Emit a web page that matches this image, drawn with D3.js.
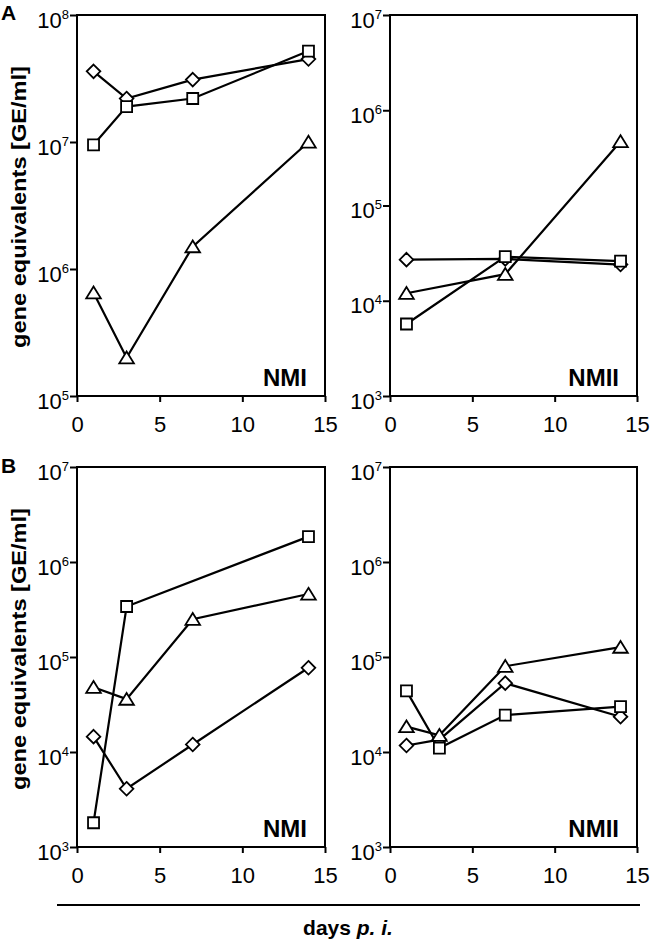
<!DOCTYPE html>
<html>
<head>
<meta charset="utf-8">
<script src="https://cdn.jsdelivr.net/npm/d3@7"></script>
<style>
  html, body { margin: 0; padding: 0; background: #fff; }
  svg { display: block; }
  text { font-family: "Liberation Sans", Arial, sans-serif; fill: #000; }
</style>
</head>
<body>
<svg id="chart" width="650" height="940"></svg>
<script>
// ---------- data ----------
const daysFour = [1, 3, 7, 14];
const daysNMIIa = [1, 7, 14];
const daysSquareBNMI = [1, 3, 14];

// Panel A, NMI
const aNMI_diamond = [3.6e7, 2.2e7, 3.1e7, 4.5e7];
const aNMI_square = [9.5e6, 1.9e7, 2.2e7, 5.2e7];
const aNMI_triangle = [6.5e5, 2.0e5, 1.5e6, 1.0e7];

// Panel A, NMII
const aNMII_diamond = [2.7e4, 2.75e4, 2.4e4];
const aNMII_square = [5.7e3, 2.9e4, 2.6e4];
const aNMII_triangle = [1.2e4, 1.9e4, 4.7e5];

// Panel B, NMI
const bNMI_diamond = [1.45e4, 4.1e3, 1.2e4, 7.7e4];
const bNMI_square = [1.8e3, 3.4e5, 1.85e6];
const bNMI_triangle = [4.8e4, 3.6e4, 2.5e5, 4.6e5];

// Panel B, NMII
const bNMII_diamond = [1.17e4, 1.35e4, 5.3e4, 2.35e4];
const bNMII_square = [4.4e4, 1.1e4, 2.45e4, 3.0e4];
const bNMII_triangle = [1.85e4, 1.5e4, 8.0e4, 1.27e5];

const xTicks = [0, 5, 10, 15];
const yLabel = "gene equivalents [GE/ml]";
const xLabel = ["days ", "p. i."];

// ---------- layout ----------
const svg = d3.select("#chart");
const FONT = '"Liberation Sans", Arial, sans-serif';

const panels = [
  { name: "NMI",  x0: 77,  x1: 325, y0: 15,  y1: 396, dom: [1e5, 1e8],
    series: [
      { shape: "diamond",  days: daysFour, vals: aNMI_diamond },
      { shape: "triangle", days: daysFour, vals: aNMI_triangle },
      { shape: "square",   days: daysFour, vals: aNMI_square } ] },
  { name: "NMII", x0: 390, x1: 637, y0: 15,  y1: 396, dom: [1e3, 1e7],
    series: [
      { shape: "diamond",  days: daysNMIIa, vals: aNMII_diamond },
      { shape: "triangle", days: daysNMIIa, vals: aNMII_triangle },
      { shape: "square",   days: daysNMIIa, vals: aNMII_square } ] },
  { name: "NMI",  x0: 77,  x1: 325, y0: 467, y1: 847, dom: [1e3, 1e7],
    series: [
      { shape: "diamond",  days: daysFour, vals: bNMI_diamond },
      { shape: "triangle", days: daysFour, vals: bNMI_triangle },
      { shape: "square",   days: daysSquareBNMI, vals: bNMI_square } ] },
  { name: "NMII", x0: 390, x1: 637, y0: 467, y1: 847, dom: [1e3, 1e7],
    series: [
      { shape: "diamond",  days: daysFour, vals: bNMII_diamond },
      { shape: "triangle", days: daysFour, vals: bNMII_triangle },
      { shape: "square",   days: daysFour, vals: bNMII_square } ] }
];

const shapePath = {
  diamond: "M0,-6.8L6.8,0L0,6.8L-6.8,0Z",
  square: "M-5.5,-5.5H5.5V5.5H-5.5Z",
  triangle: "M0,-6.2L7.3,5.6L-7.3,5.6Z"
};

panels.forEach(p => {
  const x = d3.scaleLinear().domain([0, 15]).range([p.x0, p.x1]);
  const y = d3.scaleLog().domain(p.dom).range([p.y1, p.y0]);
  const g = svg.append("g");

  // frame
  g.append("rect")
    .attr("x", p.x0).attr("y", p.y0)
    .attr("width", p.x1 - p.x0).attr("height", p.y1 - p.y0)
    .attr("fill", "none").attr("stroke", "#000").attr("stroke-width", 2);

  // x axis
  const xa = g.append("g").attr("transform", `translate(0,${p.y1})`)
    .call(d3.axisBottom(x).tickValues(xTicks).tickSize(6).tickPadding(0).tickFormat(d3.format("d")));
  xa.select(".domain").remove();
  xa.selectAll(".tick line").attr("stroke", "#000").attr("stroke-width", 2);
  xa.selectAll(".tick text").attr("y", 36).attr("dy", null)
    .attr("font-size", 22).attr("font-family", FONT).attr("fill", "#000");

  // y axis
  const decades = d3.range(Math.log10(p.dom[0]), Math.log10(p.dom[1]) + 1).map(e => Math.pow(10, e));
  const ya = g.append("g").attr("transform", `translate(${p.x0},0)`)
    .call(d3.axisLeft(y).tickValues(decades).tickSize(7).tickFormat(""));
  ya.select(".domain").remove();
  ya.selectAll(".tick line").attr("stroke", "#000").attr("stroke-width", 2);
  ya.selectAll(".tick").each(function(d) {
    const t = d3.select(this).append("text")
      .attr("x", -8).attr("y", 0)
      .attr("text-anchor", "end")
      .attr("font-family", FONT);
    t.append("tspan").attr("font-size", 22).attr("dy", 12).text("10");
    t.append("tspan").attr("font-size", 13).attr("dy", -9).text(Math.round(Math.log10(d)));
  });

  // panel name
  g.append("text")
    .attr("x", p.x1 - 18).attr("y", p.y1 - 10)
    .attr("text-anchor", "end").attr("font-weight", "bold")
    .attr("font-size", 24).attr("font-family", FONT)
    .text(p.name);

  // series
  const line = d3.line().x(d => x(d[0])).y(d => y(d[1]));
  p.series.forEach(s => {
    const pts = s.days.map((d, i) => [d, s.vals[i]]);
    g.append("path").datum(pts).attr("d", line)
      .attr("fill", "none").attr("stroke", "#000").attr("stroke-width", 2.2);
  });
  p.series.forEach(s => {
    const pts = s.days.map((d, i) => [d, s.vals[i]]);
    g.selectAll(null).data(pts).enter().append("path")
      .attr("d", shapePath[s.shape])
      .attr("transform", d => `translate(${x(d[0])},${y(d[1])})`)
      .attr("fill", "#fff").attr("stroke", "#000").attr("stroke-width", 1.8);
  });
});

// y axis titles
[207, 649].forEach(cy => {
  svg.append("text")
    .attr("transform", `translate(26,${cy}) rotate(-90)`)
    .attr("text-anchor", "middle")
    .attr("font-weight", "bold").attr("font-size", 21).attr("font-family", FONT)
    .attr("textLength", 282).attr("lengthAdjust", "spacingAndGlyphs")
    .text(yLabel);
});

// panel letters
svg.append("text").attr("x", 1).attr("y", 20).attr("font-weight", "bold")
  .attr("font-size", 21).attr("font-family", FONT).text("A");
svg.append("text").attr("x", 1).attr("y", 473).attr("font-weight", "bold")
  .attr("font-size", 21).attr("font-family", FONT).text("B");

// bottom rule and label
svg.append("line").attr("x1", 57).attr("x2", 640).attr("y1", 905).attr("y2", 905)
  .attr("stroke", "#000").attr("stroke-width", 2);
const xl = svg.append("text").attr("x", 348).attr("y", 935)
  .attr("text-anchor", "middle").attr("font-weight", "bold")
  .attr("font-size", 21).attr("font-family", FONT);
xl.append("tspan").text(xLabel[0]);
xl.append("tspan").attr("font-style", "italic").text(xLabel[1]);
</script>
</body>
</html>
